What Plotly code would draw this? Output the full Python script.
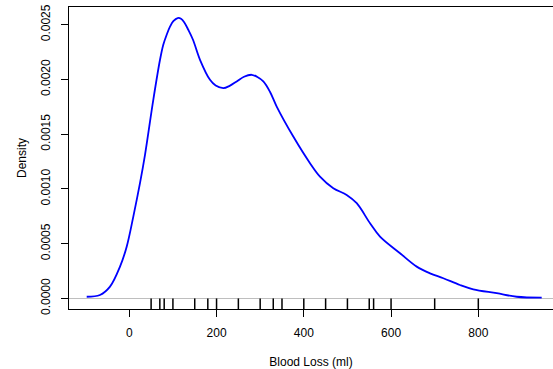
import plotly.graph_objects as go

# Density curve (Blood Loss in ml, density)
curve_x = [-97.6, -67.2, -44.2, -21.3, -6.0, 9.2, 24.5, 36.0, 55.0, 70.4, 77.9, 85.7, 93.3,
           100.9, 110.9, 118.5, 126.5, 135.2, 146.0, 162.1, 185.0, 198.0, 215.5,
           230.0, 246.2, 262.9, 280.6, 292.7, 307.2, 322.4, 337.9, 375.9, 414.2,
           437.1, 467.6, 498.3, 521.3, 551.8, 574.7, 620.6, 658.8, 689.3, 719.8, 758.0,
           788.5, 842.2, 888.0, 945.3]
curve_y = [0.000016, 0.000032, 0.000108, 0.000291, 0.000473, 0.000748, 0.001053, 0.001312,
           0.001814, 0.002180, 0.002317, 0.002409, 0.002482, 0.002532, 0.002561, 0.002555,
           0.002518, 0.002454, 0.002363, 0.002180, 0.001997, 0.001945, 0.001921,
           0.001942, 0.001982, 0.002025, 0.002043, 0.002025, 0.001982, 0.001888, 0.001753,
           0.001479, 0.001236, 0.001113, 0.001007, 0.000946, 0.000870, 0.000687, 0.000565,
           0.000413, 0.000291, 0.000230, 0.000185, 0.000123, 0.000084, 0.000048, 0.000016,
           0.000007]

# Rug: observed blood loss values
rug_x = [50, 70, 80, 100, 150, 180, 200, 250, 300, 330, 350, 400, 450, 500, 550, 560,
         600, 700, 800]

x_ticks = [0, 200, 400, 600, 800]
y_ticks = [0.0, 0.0005, 0.0010, 0.0015, 0.0020, 0.0025]
y_tick_labels = ["0.0000", "0.0005", "0.0010", "0.0015", "0.0020", "0.0025"]

font = dict(family="Liberation Sans, Arial, Helvetica, sans-serif", size=12, color="black")

fig = go.Figure()
fig.add_trace(go.Scatter(x=curve_x, y=curve_y, mode="lines",
                         line=dict(color="#0000FF", width=1.8, shape="spline", smoothing=1.0),
                         hoverinfo="skip", showlegend=False))

for v in rug_x:
    fig.add_shape(type="line", xref="x", yref="paper", x0=v, x1=v, y0=0, y1=0.035,
                  line=dict(color="black", width=1.5))

fig.update_layout(
    width=553, height=369,
    margin=dict(l=69, r=0, t=7, b=60, pad=0),
    paper_bgcolor="white", plot_bgcolor="white",
    font=font,
    showlegend=False,
    xaxis=dict(range=[-138.2, 971.2], tickmode="array", tickvals=x_ticks,
               ticktext=[str(t) for t in x_ticks],
               showgrid=False, zeroline=False, showline=True, mirror=True,
               linecolor="black", linewidth=1, ticks="outside", ticklen=7,
               tickcolor="black", tickwidth=1, ticklabelstandoff=6,
               title=dict(text="Blood Loss (ml)", standoff=18, font=font)),
    yaxis=dict(range=[-0.000096, 0.002662], tickmode="array", tickvals=y_ticks,
               ticktext=y_tick_labels, tickangle=-90,
               showgrid=False, zeroline=True, zerolinecolor="#BEBEBE", zerolinewidth=1,
               showline=True, mirror=False, linecolor="black", linewidth=1,
               ticks="outside", ticklen=7, tickcolor="black", tickwidth=1,
               ticklabelstandoff=6,
               title=dict(text="Density", standoff=10, font=font)),
)

fig.write_html("out.html")
